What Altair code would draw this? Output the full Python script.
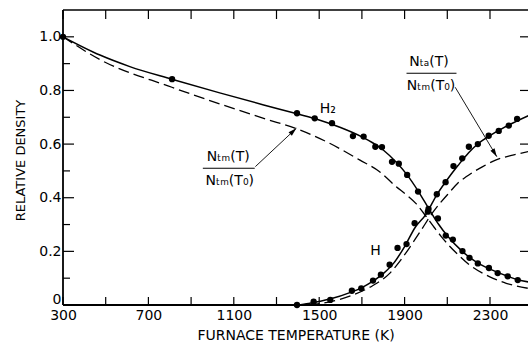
import math
import altair as alt
import pandas as pd

# ---------------- data ----------------
# H2 measured points (furnace temperature K, relative density)
h2_T = [300, 811, 1396, 1479, 1560, 1658, 1708, 1763, 1794, 1841, 1873, 1912,
        1963, 2012, 2056, 2093, 2126, 2171, 2204, 2243, 2295, 2336, 2383, 2430]
h2_y = [1.0, 0.842, 0.715, 0.696, 0.678, 0.630, 0.628, 0.590, 0.589, 0.534, 0.527, 0.485,
        0.423, 0.358, 0.323, 0.259, 0.244, 0.201, 0.176, 0.155, 0.138, 0.119, 0.107, 0.093]

# H measured points
h_T = [1396, 1474, 1552, 1653, 1697, 1752, 1789, 1830, 1867, 1909, 1947, 2009,
       2051, 2092, 2129, 2170, 2201, 2243, 2294, 2341, 2388, 2427]
h_y = [0.0, 0.012, 0.019, 0.053, 0.062, 0.091, 0.113, 0.150, 0.213, 0.227, 0.305, 0.348,
       0.413, 0.458, 0.518, 0.547, 0.590, 0.600, 0.631, 0.649, 0.669, 0.694]

# solid fitted curves
h2_fit_T = [300, 473, 613, 810, 1034, 1240, 1396, 1500, 1600, 1700, 1750, 1800, 1860,
            1910, 1965, 2015, 2060, 2100, 2170, 2240, 2300, 2380, 2430, 2480]
h2_fit_y = [1.0, 0.932, 0.889, 0.842, 0.791, 0.746, 0.713, 0.690, 0.662, 0.627, 0.605, 0.578, 0.533,
            0.487, 0.423, 0.357, 0.300, 0.258, 0.200, 0.158, 0.134, 0.108, 0.094, 0.086]

h_fit_T = [1396, 1450, 1550, 1650, 1700, 1750, 1800, 1850, 1900, 1950, 2000, 2050,
           2100, 2150, 2200, 2250, 2300, 2350, 2400, 2480]
h_fit_y = [0.0, 0.006, 0.022, 0.048, 0.065, 0.088, 0.117, 0.157, 0.218, 0.290, 0.338, 0.410,
           0.468, 0.520, 0.568, 0.605, 0.632, 0.655, 0.676, 0.706]

# dashed curves
ntm_T = [300, 473, 810, 1240, 1409, 1549, 1689, 1783, 1861, 1910, 1955, 2001, 2040, 2072,
         2110, 2150, 2200, 2297, 2376, 2480]
ntm_y = [1.0, 0.915, 0.812, 0.696, 0.653, 0.603, 0.541, 0.497, 0.441, 0.410, 0.377, 0.330, 0.288, 0.255,
         0.220, 0.188, 0.152, 0.106, 0.081, 0.062]

nta_T = [1450, 1550, 1650, 1750, 1830, 1884, 1970, 2032, 2110, 2150, 2188, 2266,
         2329, 2407, 2480]
nta_y = [0.0, 0.012, 0.035, 0.072, 0.118, 0.170, 0.270, 0.345, 0.420, 0.455, 0.478, 0.516,
         0.541, 0.559, 0.572]

# axis ticks
x_label_vals = [300, 700, 1100, 1500, 1900, 2300]
x_tick_vals = [300, 500, 700, 900, 1100, 1300, 1500, 1700, 1900, 2100, 2300]
y_label_vals = [0, 0.2, 0.4, 0.6, 0.8, 1.0]
y_minor_vals = [0.1, 0.3, 0.5, 0.7, 0.9]

# annotations
labels = ["H\u2082", "H",
          "N\u209c\u2098(T)", "N\u209c\u2098(T\u2080)",
          "N\u209c\u2090(T)", "N\u209c\u2098(T\u2080)"]
label_T = [1540, 1764, 1074, 1081, 2014, 2024]
label_y = [0.731, 0.200, 0.552, 0.462, 0.906, 0.816]

bar_T1 = [955, 1909]
bar_T2 = [1198, 2143]
bar_y = [0.510, 0.864]

arrow_T1 = [1201, 2137]
arrow_y1 = [0.516, 0.812]
arrow_T2 = [1393, 2332]
arrow_y2 = [0.659, 0.553]

# ---------------- chart ----------------
W, H = 465, 295
XDOM = [300, 2478]
YDOM = [0, 1.1]
FONT = "DejaVu Sans"
xs = alt.Scale(domain=XDOM, nice=False, zero=False)
ys = alt.Scale(domain=YDOM, nice=False, zero=False)

AX = alt.Axis(values=x_label_vals, format="d", ticks=False, domain=False, grid=False,
              labelFont=FONT, labelFontSize=14, labelColor="black",
              labelPadding=3, labelFlush=False,
              title="FURNACE TEMPERATURE (K)", titleFont=FONT, titleFontSize=14,
              titleFontWeight="normal", titleColor="black",
              titleY=30, titleBaseline="middle")
AY = alt.Axis(values=y_label_vals, ticks=False, domain=False, grid=False,
              labelExpr="datum.value == 0 ? '0' : format(datum.value, '.1f')",
              labelFont=FONT, labelFontSize=14, labelColor="black",
              labelPadding=2, labelFlush=False,
              labelOffset={"condition": {"test": "datum.value == 0", "value": -6}, "value": 0},
              title="RELATIVE DENSITY", titleFont=FONT, titleFontSize=13,
              titleFontWeight="normal", titleColor="black",
              titleX=-43, titleY=150, titleAngle=-90,
              titleAlign="center", titleBaseline="middle")


def xenc(f="T"):
    return alt.X(f, type="quantitative", scale=xs, axis=AX)


def yenc(f="y"):
    return alt.Y(f, type="quantitative", scale=ys, axis=AY)


pts_h2 = pd.DataFrame({"T": h2_T, "y": h2_y})
pts_h = pd.DataFrame({"T": h_T, "y": h_y})

pts_h2_layer = alt.Chart(pts_h2).mark_circle(size=40, color="black", opacity=1).encode(
    x=xenc(), y=yenc())
pts_h_layer = alt.Chart(pts_h).mark_circle(size=40, color="black", opacity=1).encode(
    x=xenc(), y=yenc())

h2_fit = alt.Chart(pd.DataFrame({"T": h2_fit_T, "y": h2_fit_y})).mark_line(
    color="black", strokeWidth=1.5, interpolate="monotone", clip=True).encode(x=xenc(), y=yenc())
h_fit = alt.Chart(pd.DataFrame({"T": h_fit_T, "y": h_fit_y})).mark_line(
    color="black", strokeWidth=1.5, interpolate="monotone", clip=True).encode(x=xenc(), y=yenc())
ntm_line = alt.Chart(pd.DataFrame({"T": ntm_T, "y": ntm_y})).mark_line(
    color="black", strokeWidth=1.3, strokeDash=[11, 5], interpolate="monotone", clip=True
).encode(x=xenc(), y=yenc())
nta_line = alt.Chart(pd.DataFrame({"T": nta_T, "y": nta_y})).mark_line(
    color="black", strokeWidth=1.3, strokeDash=[11, 5], interpolate="monotone", clip=True
).encode(x=xenc(), y=yenc())

# frame (left, top, bottom)
one = pd.DataFrame({"a": [0]})
frame_left = alt.Chart(one).mark_rule(color="black", strokeWidth=1.8).encode(
    x=alt.value(0), y=alt.value(0), y2=alt.value(H))
frame_bottom = alt.Chart(one).mark_rule(color="black", strokeWidth=1.8).encode(
    x=alt.value(0), x2=alt.value(W), y=alt.value(H))
frame_top = alt.Chart(one).mark_rule(color="black", strokeWidth=1.3).encode(
    x=alt.value(0), x2=alt.value(W), y=alt.value(0))

# inward ticks
xt = pd.DataFrame({"T": x_tick_vals})
ticks_bottom = alt.Chart(xt).mark_rule(color="black", strokeWidth=1.2).encode(
    x=xenc(), y=alt.value(H), y2=alt.value(H - 8))
ticks_top = alt.Chart(xt).mark_rule(color="black", strokeWidth=1.2).encode(
    x=xenc(), y=alt.value(0), y2=alt.value(9))
ytmaj = pd.DataFrame({"y": y_label_vals[1:]})
ytmin = pd.DataFrame({"y": y_minor_vals})
ticks_left_major = alt.Chart(ytmaj).mark_rule(color="black", strokeWidth=1.2).encode(
    y=yenc(), x=alt.value(0), x2=alt.value(11))
ticks_left_minor = alt.Chart(ytmin).mark_rule(color="black", strokeWidth=1.2).encode(
    y=yenc(), x=alt.value(0), x2=alt.value(7))
ticks_right = alt.Chart(ytmaj).mark_rule(color="black", strokeWidth=1.2).encode(
    y=yenc(), x=alt.value(W), x2=alt.value(W - 8))

# annotations
lab_df = pd.DataFrame({"T": label_T, "y": label_y, "text": labels})
text_layer = alt.Chart(lab_df).mark_text(
    font=FONT, fontSize=14, color="black", align="center", baseline="middle").encode(
    x=xenc(), y=yenc(), text="text:N")

bars = alt.Chart(pd.DataFrame({"T": bar_T1, "T2": bar_T2, "y": bar_y})).mark_rule(
    color="black", strokeWidth=1.1).encode(x=xenc(), x2="T2", y=yenc())

arr_df = pd.DataFrame({"T": arrow_T1, "y": arrow_y1, "T2": arrow_T2, "y2": arrow_y2})
arrow_lines = alt.Chart(arr_df).mark_rule(color="black", strokeWidth=0.9).encode(
    x=xenc(), y=yenc(), x2="T2", y2="y2")

kx = W / (XDOM[1] - XDOM[0])
ky = H / (YDOM[1] - YDOM[0])
angles = []
for t1, y1, t2, y2 in zip(arrow_T1, arrow_y1, arrow_T2, arrow_y2):
    dx = (t2 - t1) * kx
    dy = -(y2 - y1) * ky
    angles.append(math.degrees(math.atan2(dx, -dy)) % 360)
head_df = pd.DataFrame({"T": arrow_T2, "y": arrow_y2, "ang": angles})
heads = alt.Chart(head_df).mark_point(
    shape="M0,0 L-0.6,2.1 L0.6,2.1 Z", filled=True, color="black", opacity=1, size=64,
    strokeWidth=0).encode(x=xenc(), y=yenc(), angle=alt.Angle("ang:Q", scale=None))

chart = alt.layer(
    frame_left, frame_bottom, frame_top,
    ticks_bottom, ticks_top, ticks_left_major, ticks_left_minor, ticks_right,
    h2_fit, h_fit, ntm_line, nta_line,
    pts_h2_layer, pts_h_layer,
    text_layer, bars, arrow_lines, heads,
).properties(
    width=W, height=H,
    padding={"left": 63, "top": 10, "right": 0, "bottom": 42},
    autosize=alt.AutoSizeParams(type="none"),
    background="white",
).configure_view(stroke=None)

chart.save("out.html", embed_options={"renderer": "svg", "actions": False})
